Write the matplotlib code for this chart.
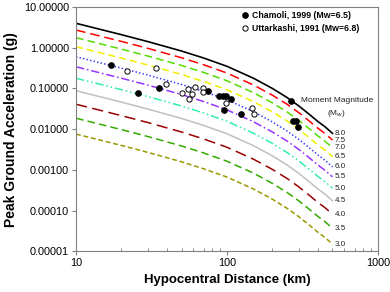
import matplotlib
matplotlib.use("Agg")
import matplotlib.pyplot as plt
from matplotlib.ticker import FixedLocator, FuncFormatter, NullFormatter

plt.rcParams['font.family'] = ['Liberation Sans', 'DejaVu Sans']
plt.rcParams['lines.scale_dashes'] = False

# attenuation curve for Mw 8.0 (g) read along hypocentral distance (km)
dist_km = [10, 20, 30, 50, 70, 100, 150, 200, 250, 300, 350, 400, 450, 500]
pga_m8 = [3.98, 2.09, 1.41, 0.83, 0.56, 0.35, 0.178, 0.100, 0.060, 0.037,
          0.0234, 0.0155, 0.0112, 0.0079]

magnitudes = ['8.0', '7.5', '7.0', '6.5', '6.0', '5.5', '5.0', '4.5', '4.0', '3.5', '3.0']
pga_at_10km = [3.98, 2.72, 1.76, 1.06, 0.60, 0.34, 0.178, 0.088, 0.041, 0.0186, 0.0076]

# observed records
chamoli_r = [17.1, 25.8, 35.4, 74.6, 89, 94, 99, 107, 95, 123, 267, 274, 288, 297]
chamoli_pga = [0.38, 0.076, 0.10, 0.087, 0.066, 0.067, 0.067, 0.055, 0.030, 0.024,
               0.049, 0.016, 0.016, 0.0115]
uttarkashi_r = [21.6, 33.8, 39.2, 50.1, 55.5, 55.8, 58.6, 61, 69, 69.4, 97.8, 147, 151]
uttarkashi_pga = [0.27, 0.32, 0.126, 0.077, 0.098, 0.055, 0.072, 0.107, 0.10, 0.083,
                  0.044, 0.034, 0.023]

styles = [
    ('black', '-', None),
    ('#FF0000', '--', (7, 3.5)),
    ('#55DD00', '--', (5.5, 3)),
    ('#EEEE00', '--', (5, 3)),
    ('#3333FF', ':', (1, 1.6)),
    ('#9933FF', '-.', (6, 2, 1.2, 2)),
    ('#33EEAA', '-.', (6, 2, 1.2, 2, 1.2, 2)),
    ('#C0C0C0', '-', None),
    ('#990000', '--', (8, 4)),
    ('#33AA00', '--', (5.5, 3)),
    ('#999900', '--', (3.5, 2)),
]

fig = plt.figure(figsize=(3.9, 2.92), dpi=100)
ax = fig.add_axes([0.195, 0.139, 0.774, 0.837])

for mag, level, (col, ls, dash) in zip(magnitudes, pga_at_10km, styles):
    vals = [v * level / pga_m8[0] for v in pga_m8]
    line, = ax.plot(dist_km, vals, color=col, ls=ls, lw=1.1 if col != 'black' else 1.2)
    if dash is not None:
        line.set_dashes(dash)
    ax.annotate(mag, (dist_km[-1], vals[-1]), xytext=(1.5, 0),
                textcoords='offset points', va='center', ha='left',
                fontsize=5.8, color='#222222')

ax.plot(chamoli_r, chamoli_pga, 'o', color='black', ms=3.8,
        label='Chamoli, 1999 (Mw=6.5)', zorder=5)
ax.plot(uttarkashi_r, uttarkashi_pga, 'o', mfc='white', mec='black', mew=0.7,
        ms=3.8, label='Uttarkashi, 1991 (Mw=6.8)', zorder=5)

ax.text(0.864, 0.616, 'Moment Magnitude', transform=ax.transAxes,
        ha='center', va='center', fontsize=6, color='#222222')
ax.text(0.864, 0.566, '(M$_w$)', transform=ax.transAxes,
        ha='center', va='center', fontsize=6, color='#222222')

ax.set_xscale('log')
ax.set_yscale('log')
ax.set_xlim(10, 1000)
ax.set_ylim(1e-5, 10)

ax.xaxis.set_major_locator(FixedLocator([10, 100, 1000]))
ax.xaxis.set_major_formatter(FuncFormatter(lambda v, p: '%d' % v))
ax.xaxis.set_minor_locator(FixedLocator([20, 30, 40, 50, 60, 70, 80, 90,
                                         200, 300, 400, 500, 600, 700, 800, 900]))
ax.xaxis.set_minor_formatter(NullFormatter())
ax.yaxis.set_major_locator(FixedLocator([1e-5, 1e-4, 1e-3, 1e-2, 1e-1, 1, 10]))
ax.yaxis.set_major_formatter(FuncFormatter(lambda v, p: '%.5f' % v))
ax.yaxis.set_minor_locator(FixedLocator([]))

ax.tick_params(axis='both', which='major', direction='out', length=3,
               width=0.8, color='#808080', labelsize=7.8, pad=2)
ax.tick_params(axis='x', which='minor', direction='in', length=2.5,
               width=0.6, color='#808080')
for s in ax.spines.values():
    s.set_color('#808080')
    s.set_linewidth(0.8)

ax.set_xlabel('Hypocentral Distance (km)', fontsize=9.5, fontweight='bold', labelpad=4)
ax.set_ylabel('Peak Ground Acceleration (g)', fontsize=10, fontweight='bold', labelpad=4)

ax.legend(loc='upper right', bbox_to_anchor=(0.94, 0.985), frameon=False,
          prop={'size': 6.3, 'weight': 'bold'}, handlelength=0.8,
          handletextpad=0.4, borderpad=0, borderaxespad=0, labelspacing=0.5)

fig.savefig('out.png', dpi=100)
